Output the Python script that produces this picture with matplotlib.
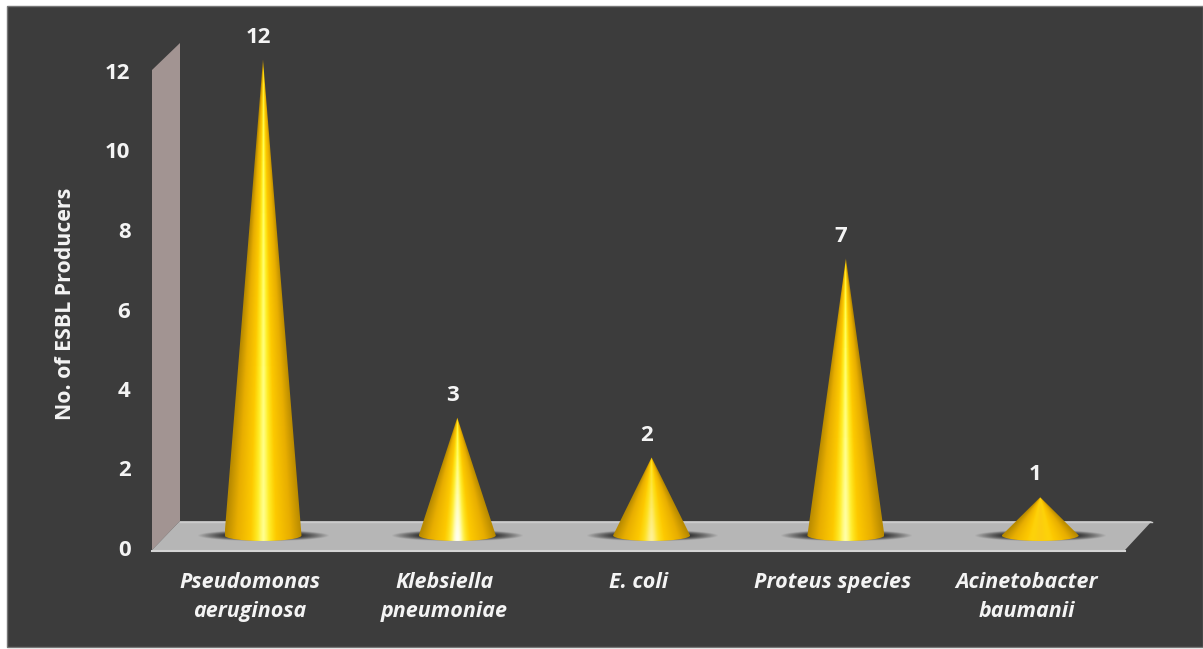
import numpy as np
import matplotlib
matplotlib.use('Agg')
import matplotlib.pyplot as plt
from matplotlib.colors import LinearSegmentedColormap, to_rgb
from matplotlib.patches import Polygon, PathPatch
from matplotlib.path import Path

categories = ['Pseudomonas\naeruginosa', 'Klebsiella\npneumoniae', 'E. coli', 'Proteus species', 'Acinetobacter\nbaumanii']
values = [12, 3, 2, 7, 1]
y_ticks = [0, 2, 4, 6, 8, 10, 12]
y_label = 'No. of ESBL Producers'

W, H = 1203, 649
plt.rcParams['font.family'] = ['Open Sans', 'DejaVu Sans']
TEXT = '#f4f4f4'

fig = plt.figure(figsize=(W / 100, H / 100), dpi=100, facecolor='white')

# backdrop in pixel coordinates: frame, wall and floor
bg = fig.add_axes([0, 0, 1, 1])
bg.set_xlim(0, W)
bg.set_ylim(H, 0)
bg.axis('off')
bg.add_patch(Polygon([(7, 6), (W, 6), (W, 647), (7, 647)], fc='#3c3c3c', ec='#777777', lw=1))
bg.add_patch(Polygon([(152, 70), (180, 43), (180, 521), (152, 550)], fc='#a29492', ec='none'))
bg.add_patch(Polygon([(152, 550), (180, 521), (1152, 521), (1125, 550)], fc='#b6b6b6', ec='none'))
bg.plot([152, 1125], [550.5, 550.5], color='#d4d4d4', lw=1.5)
bg.plot([180, 1152], [521.5, 521.5], color='#cccccc', lw=1)

# tick labels sit on the front plane, a little lower than the cone scale
tick_ax = fig.add_axes([152 / W, 1 - 548 / H, 0.5, (548 - 71) / H])
tick_ax.patch.set_visible(False)
tick_ax.set_ylim(0, 12)
tick_ax.set_xticks([])
tick_ax.set_yticks(y_ticks)
tick_ax.tick_params(axis='y', length=0, pad=15.5, labelsize=16, labelcolor=TEXT)
for lab in tick_ax.get_yticklabels():
    lab.set_fontweight('bold')
for s in tick_ax.spines.values():
    s.set_visible(False)

fig.text(65.5 / W, 1 - 304 / H, y_label, rotation=90, ha='center', va='center',
         color=TEXT, fontsize=15.4, fontweight='bold')

# cones: one category = 194.3 px, one unit = 39.8 px, zero at pixel y 537
ax = fig.add_axes([0, 0, 1, 1])
ax.patch.set_visible(False)
ax.axis('off')
xlim = ((0 - 263) / 194.3, (W - 263) / 194.3)
ylim = ((537 - H) / 39.8, 537 / 39.8)

cone_cmap = LinearSegmentedColormap.from_list('cone', [
    (0.0, '#b88a00'), (0.15, '#e8ae00'), (0.33, '#fdc900'), (0.43, '#ffee20'), (0.5, '#ffff70'),
    (0.57, '#ffee20'), (0.67, '#fdc900'), (0.85, '#e8ae00'), (1.0, '#b88a00')])
gold = np.array(to_rgb('#fcc400'))

half_w = 38.5 / 194.3
base_h = 0.14
base_mid = 0.04

for i, v in enumerate(values):
    # soft shadow on the floor
    sx = np.linspace(i - 0.34, i + 0.34, 140)
    sy = np.linspace(-0.12, 0.2, 30)
    xx, yy = np.meshgrid(sx, sy)
    d = ((xx - i) / 0.34) ** 2 + ((yy - 0.04) / 0.14) ** 2
    shadow = np.zeros(d.shape + (4,))
    shadow[..., :3] = 0.12
    shadow[..., 3] = np.clip(1.25 * (1 - d), 0, 1)
    ax.imshow(shadow, extent=(sx[0], sx[-1], sy[0], sy[-1]), origin='lower',
              aspect='auto', interpolation='bilinear', zorder=2)

    # cone outline: straight sides and rounded base
    t = np.linspace(np.pi, 2 * np.pi, 40)
    base = np.column_stack([i + half_w * np.cos(t), base_mid + base_h * np.sin(t)])
    outline = np.vstack([base, [[i, v]], base[:1]])
    clip = PathPatch(Path(outline), transform=ax.transData, fc='none', ec='none')
    ax.add_patch(clip)

    gx = np.linspace(i - half_w, i + half_w, 200)
    gy = np.linspace(base_mid - base_h, v, 400)
    xx, yy = np.meshgrid(gx, gy)
    width = half_w * np.clip(1 - yy / v, 0.002, None)
    u = np.clip((xx - i) / width, -1, 1)
    rgb = cone_cmap((u + 1) / 2)[..., :3]

    # the highlight is whiter near the base on short cones and flat on the shortest
    h = min((v - 1) / 2, 1)
    white = 0.9 * 3 / max(v, 3) * h * np.exp(-(u / 0.14) ** 2) * np.clip(1 - yy / (0.7 * v), 0, 1)
    flat = (1 - h) * 0.85 * np.exp(-(u / 0.3) ** 2)
    rgb = rgb * (1 - flat[..., None]) + gold * flat[..., None]
    rgb = rgb * (1 - white[..., None]) + white[..., None]

    im = ax.imshow(rgb, extent=(gx[0], gx[-1], gy[0], gy[-1]), origin='lower',
                   aspect='auto', interpolation='bilinear', zorder=3)
    im.set_clip_path(clip)

    ax.annotate(str(v), (i, v), xytext=(-3.5, 16), textcoords='offset points',
                ha='center', va='center', color=TEXT, fontsize=16, fontweight='bold', zorder=4)
    ax.annotate(categories[i], (i, 0), xytext=(-9.5, -25.5),
                textcoords='offset points', ha='center', va='top', color=TEXT, fontsize=15.5,
                fontweight='bold', fontstyle='italic', linespacing=1.5, zorder=4)

ax.set_xlim(xlim)
ax.set_ylim(ylim)

fig.savefig('out.png', dpi=100, facecolor='white')
